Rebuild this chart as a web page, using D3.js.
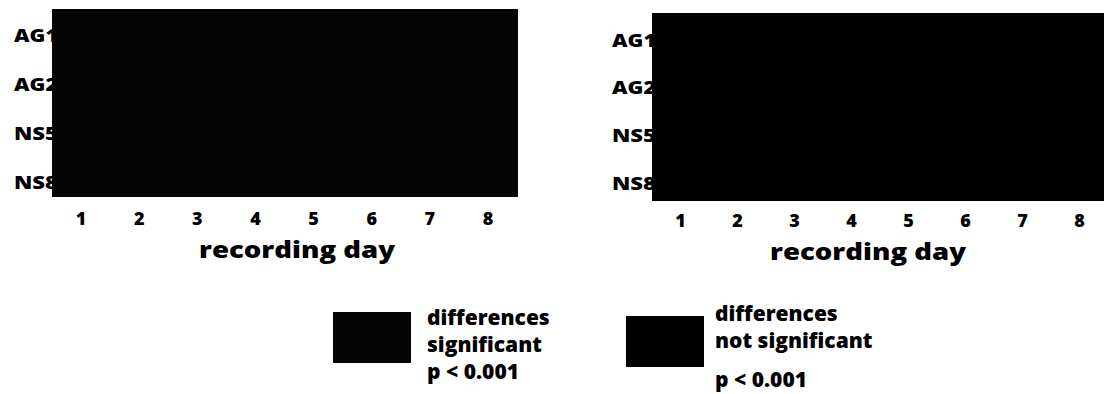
<!DOCTYPE html>
<html>
<head>
<meta charset="utf-8">
<script src="https://cdn.jsdelivr.net/npm/d3@7"></script>
<style>
  html, body { margin: 0; padding: 0; background: #fff; }
  svg { display: block; }
  text { font-family: "Open Sans", Lato, sans-serif; font-weight: 800; fill: #000; }
</style>
</head>
<body>
<svg id="chart" width="1104" height="394"></svg>
<script>
// recording days and recorded animals
const days = ["1", "2", "3", "4", "5", "6", "7", "8"];
const animals = ["AG1", "AG2", "NS5", "NS8"];

// outcome of the pairwise test per animal (rows) and day (columns): 1 = significant, 0 = not significant
const leftMatrix = [
  [1, 1, 1, 1, 1, 1, 1, 1],
  [1, 1, 1, 1, 1, 1, 1, 1],
  [1, 1, 1, 1, 1, 1, 1, 1],
  [1, 1, 1, 1, 1, 1, 1, 1]
];
const rightMatrix = [
  [0, 0, 0, 0, 0, 0, 0, 0],
  [0, 0, 0, 0, 0, 0, 0, 0],
  [0, 0, 0, 0, 0, 0, 0, 0],
  [0, 0, 0, 0, 0, 0, 0, 0]
];

// legend entries
const legendLabels = [
  ["differences", "significant", "p < 0.001"],
  ["differences", "not significant", "p < 0.001"]
];
const legendValues = [1, 0];

const color = d3.scaleOrdinal().domain([1, 0]).range(["#040404", "#000000"]);

const svg = d3.select("#chart");

function heatmap(matrix, box) {
  const g = svg.append("g");
  const x = d3.scaleBand().domain(days).range([box.x0, box.x1]);
  const y = d3.scaleBand().domain(animals).range([box.y0, box.y1]);
  const yLabel = d3.scalePoint().domain(animals).range(box.labelY);

  // row labels sit partly under the left edge of the map
  g.append("g")
    .attr("transform", `translate(${box.x0 + box.labelOverlap},0)`)
    .call(d3.axisLeft(yLabel).tickSize(0).tickPadding(0))
    .call(s => s.select(".domain").remove())
    .selectAll("text")
    .style("font-size", "18px")
    .attr("dy", "0.35em")
    .attr("textLength", 44)
    .attr("lengthAdjust", "spacingAndGlyphs");

  const cells = [];
  matrix.forEach((row, i) => row.forEach((v, j) => cells.push({ animal: animals[i], day: days[j], v })));
  g.append("g")
    .attr("shape-rendering", "crispEdges")
    .selectAll("rect")
    .data(cells)
    .join("rect")
    .attr("x", d => x(d.day))
    .attr("y", d => y(d.animal))
    .attr("width", x.bandwidth() + 1)
    .attr("height", y.bandwidth() + 1)
    .attr("fill", d => color(d.v));

  g.append("g")
    .attr("transform", `translate(0,${box.tickY})`)
    .call(d3.axisBottom(x).tickSize(0).tickPadding(0))
    .call(s => s.select(".domain").remove())
    .selectAll("text")
    .style("font-size", "18px")
    .attr("dy", "0.35em");

  g.append("text")
    .attr("x", box.titleX)
    .attr("y", box.titleY)
    .attr("text-anchor", "middle")
    .style("font-size", "23px")
    .attr("textLength", 196)
    .attr("lengthAdjust", "spacingAndGlyphs")
    .text("recording day");
}

heatmap(leftMatrix, { x0: 52, x1: 517, y0: 9, y1: 196, labelY: [35, 182], labelOverlap: 6, tickY: 219, titleX: 297, titleY: 258 });
heatmap(rightMatrix, { x0: 652, x1: 1108, y0: 13, y1: 200, labelY: [40, 183], labelOverlap: 4, tickY: 221, titleX: 868, titleY: 260 });

// legend
const legendPos = [
  { bx: 333, by: 312, tx: 427, ty: [325, 352, 379] },
  { bx: 626, by: 316, tx: 715, ty: [321, 348, 387] }
];
const legend = svg.append("g");
legendPos.forEach((p, i) => {
  legend.append("rect")
    .attr("x", p.bx).attr("y", p.by)
    .attr("width", 78).attr("height", 51)
    .attr("fill", color(legendValues[i]));
  legendLabels[i].forEach((t, k) => {
    legend.append("text")
      .attr("x", p.tx).attr("y", p.ty[k])
      .style("font-size", "21px")
      .text(t);
  });
});
</script>
</body>
</html>
